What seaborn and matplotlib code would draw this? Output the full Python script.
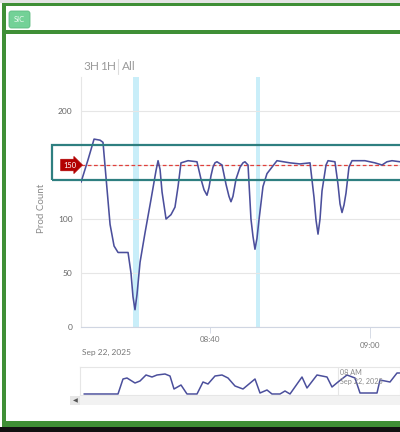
import pandas as pd
import numpy as np
import matplotlib
matplotlib.use("Agg")
import matplotlib.pyplot as plt
import matplotlib.dates as mdates
import matplotlib.transforms as mtransforms
from matplotlib.patches import Rectangle, FancyBboxPatch
import seaborn as sns

# --- data ---
day = "2025-09-22 "

main_times = [
    "08:23:52", "08:24:45", "08:25:30", "08:26:15", "08:26:37", "08:27:00", "08:27:30",
    "08:28:00", "08:28:30", "08:29:45", "08:30:07", "08:30:22", "08:30:37", "08:30:52",
    "08:31:15", "08:31:52", "08:32:37", "08:33:15", "08:33:30", "08:33:45", "08:34:00",
    "08:34:30", "08:35:07", "08:35:37", "08:36:00", "08:36:22", "08:37:15", "08:38:22",
    "08:38:52", "08:39:15", "08:39:37", "08:39:52", "08:40:07", "08:40:22", "08:40:37",
    "08:40:52", "08:41:30", "08:42:00", "08:42:22", "08:42:37", "08:42:52", "08:43:15",
    "08:43:45", "08:44:07", "08:44:22", "08:44:45", "08:45:07", "08:45:22", "08:45:37",
    "08:45:52", "08:46:07", "08:46:37", "08:47:07", "08:48:22", "08:50:00", "08:51:15",
    "08:52:30", "08:53:00", "08:53:15", "08:53:30", "08:53:45", "08:54:00", "08:54:30",
    "08:54:45", "08:55:37", "08:56:00", "08:56:15", "08:56:30", "08:56:45", "08:57:00",
    "08:57:22", "08:57:45", "08:59:22", "09:00:37", "09:01:30", "09:02:07", "09:02:45",
    "09:03:45", "09:05:00",
]
prod_count = [
    134, 155, 174, 173, 171, 138, 95,
    75, 69, 69, 50, 28, 16, 30,
    60, 87, 118, 145, 154, 146, 125,
    100, 104, 111, 130, 152, 154, 153,
    137, 127, 122, 129, 140, 148, 152,
    153, 150, 132, 121, 116, 121, 137,
    148, 152, 153, 150, 100, 84, 72,
    82, 99, 130, 142, 154, 152, 151,
    152, 120, 99, 86, 100, 126, 150,
    154, 153, 132, 114, 106, 113, 124,
    148, 154, 154, 152, 150, 153, 154,
    153, 153,
]

nav_times = [
    "03:46", "04:20", "04:25", "04:29", "04:37", "04:42", "04:48", "04:54", "04:59",
    "05:07", "05:12", "05:16", "05:23", "05:29", "05:39", "05:45", "05:50", "05:57",
    "06:04", "06:10", "06:17", "06:25", "06:37", "06:42", "06:49", "06:54", "07:02",
    "07:07", "07:12", "07:24", "07:29", "07:39", "07:49", "07:54", "08:00", "08:09",
    "08:17", "08:22", "08:30", "08:39", "08:42", "08:52", "08:59", "09:04",
]
nav_count = [
    1, 1, 16, 17, 12, 14, 20, 18, 20,
    21, 19, 6, 10, 1, 1, 13, 11, 19,
    20, 17, 9, 6, 16, 2, 5, 1, 1,
    4, 1, 18, 7, 20, 18, 8, 13, 20,
    17, 2, 2, 2, 15, 13, 22, 22,
]

target = 150
band_low, band_high = 136, 168.5
highlights = [("08:30:22", "08:31:07"), ("08:45:45", "08:46:15")]
x_ticks = ["08:40", "09:00"]
range_buttons = ["3H", "1H", "All"]

main_df = pd.DataFrame({"time": pd.to_datetime([day + t for t in main_times]),
                        "count": prod_count})
nav_df = pd.DataFrame({"time": pd.to_datetime([day + t for t in nav_times]),
                       "count": nav_count})

sns.set_theme(style="white")
plt.rcParams["font.family"] = ["Lato", "DejaVu Sans"]

W, H = 400, 432
def fx(x):
    return x / W
def fy(y):
    return 1 - y / H

fig = plt.figure(figsize=(4.0, 4.32), dpi=100)
fig.patch.set_facecolor("white")

green = "#3f8f36"
line_col = "#4b4f9c"
grid_col = "#e6e6e6"

# page frame
def frect(x0, y0, x1, y1, **kw):
    fig.patches.append(Rectangle((fx(x0), fy(y1)), fx(x1) - fx(x0), fy(y0) - fy(y1),
                                 transform=fig.transFigure, **kw))

frect(0, 0, 400, 3, fc="#e4e4e4", ec="none")
frect(0, 427, 400, 432, fc="#111111", ec="none")
frect(2, 3, 400, 5.5, fc=green, ec="none")
frect(2, 30, 400, 33.5, fc=green, ec="none")
frect(2, 3, 6, 427, fc=green, ec="none")
frect(2, 421, 400, 427, fc=green, ec="none")

fig.patches.append(FancyBboxPatch((fx(9), fy(28)), fx(30) - fx(9), fy(11) - fy(28),
                                  boxstyle="round,pad=0,rounding_size=0.006",
                                  transform=fig.transFigure, fc="#73d197", ec="#5dbb80", lw=0.6))
fig.text(fx(19.5), fy(19.8), "SIC", color="#eafaf0", fontsize=5.4, ha="center", va="center")

# range selector
fig.text(fx(83), fy(66), range_buttons[0], color="#9a9a9a", fontsize=8.5, va="center")
fig.text(fx(100), fy(66), range_buttons[1], color="#9a9a9a", fontsize=8.5, va="center")
fig.lines.append(plt.Line2D([fx(117.5), fx(117.5)], [fy(59), fy(74)],
                            transform=fig.transFigure, color="#dddddd", lw=0.8))
fig.text(fx(122), fy(66), range_buttons[2], color="#9a9a9a", fontsize=8.5, va="center")

fig.text(fx(42), fy(208), "Prod Count", color="#8a8a8a", fontsize=7,
         rotation=90, ha="center", va="center")

# main chart
ax = fig.add_axes([fx(81), fy(327), fx(400) - fx(81), fy(77) - fy(327)])
ax.set_facecolor("none")
for start, end in highlights:
    ax.axvspan(pd.Timestamp(day + start), pd.Timestamp(day + end),
               color="#c9eef9", lw=0, zorder=0)
sns.lineplot(data=main_df, x="time", y="count", ax=ax, color=line_col,
             linewidth=1.15, zorder=3)

ax.set_xlim(pd.Timestamp(day + "08:23:52"), pd.Timestamp(day + "09:03:45"))
ax.set_ylim(0, 231.5)
ax.set_yticks([0, 50, 100, 150, 200])
ax.set_yticklabels(["0", "50", "100", "", "200"])
ax.yaxis.grid(True, color=grid_col, lw=0.8)
ax.tick_params(axis="y", length=0, pad=6, labelsize=6, labelcolor="#666666")
ax.set_xlabel("")
ax.set_ylabel("")
for side in ["top", "right"]:
    ax.spines[side].set_visible(False)
ax.spines["left"].set_color(grid_col)
ax.spines["left"].set_linewidth(0.8)
ax.spines["bottom"].set_color("#d0d6e2")
ax.spines["bottom"].set_linewidth(0.8)

tick_ts = [pd.Timestamp(day + t) for t in x_ticks]
ax.set_xticks(tick_ts)
ax.set_xticklabels(["", ""])
ax.tick_params(axis="x", length=4.5, width=0.6, color="#d0d6e2", bottom=True)
ax.xaxis.get_major_ticks()[1].tick1line.set_markersize(8)

bt = mtransforms.blended_transform_factory(ax.transData, ax.transAxes)
ax.text(mdates.date2num(tick_ts[0]), -0.052, x_ticks[0], transform=bt, ha="center",
        va="center", fontsize=5.8, color="#777777", clip_on=False)
ax.text(mdates.date2num(tick_ts[1]), -0.072, x_ticks[1], transform=bt, ha="center",
        va="center", fontsize=5.8, color="#777777", clip_on=False)
ax.text(0.003, -0.102, "Sep 22, 2025", transform=ax.transAxes, ha="left",
        va="center", fontsize=6, color="#777777", clip_on=False)

# target line, band and tag
ax.axhline(target, color="#e0403c", lw=0.9, ls=(0, (3, 2)), zorder=2)
yt = mtransforms.blended_transform_factory(ax.transAxes, ax.transData)
ax.add_patch(Rectangle((-0.091, band_low), 1.2, band_high - band_low, transform=yt,
                       fill=False, ec="#2e7f80", lw=1.6, clip_on=False, zorder=4))
ax.text(-0.036, target, "150", transform=yt, ha="center", va="center", fontsize=5.4,
        color="white", clip_on=False, zorder=6,
        bbox=dict(boxstyle="rarrow,pad=0.3", fc="#b20000", ec="#b20000", lw=0.5))

# navigator
nav = fig.add_axes([fx(80), fy(395), fx(400) - fx(80), fy(367) - fy(395)])
sns.lineplot(data=nav_df, x="time", y="count", ax=nav, color=line_col, linewidth=1.1)
nav.set_xlim(pd.Timestamp(day + "03:42"), pd.Timestamp(day + "09:02"))
nav.set_ylim(0, 28)
nav.set_xticks([pd.Timestamp(day + "08:00")])
nav.xaxis.grid(True, color=grid_col, lw=0.8)
nav.set_xticklabels([])
nav.set_yticks([])
nav.tick_params(length=0)
nav.set_xlabel("")
nav.set_ylabel("")
for side in nav.spines.values():
    side.set_color(grid_col)
    side.set_linewidth(0.8)
nbt = mtransforms.blended_transform_factory(nav.transData, nav.transAxes)
x8 = mdates.date2num(pd.Timestamp(day + "08:00"))
nav.text(x8, 0.82, " 08 AM", transform=nbt, fontsize=5.2, color="#8a8a8a",
         ha="left", va="center")
nav.text(x8, 0.47, " Sep 22, 2025", transform=nbt, fontsize=5.2, color="#8a8a8a",
         ha="left", va="center")

# scrollbar
frect(70, 396, 400, 405, fc="#f2f2f2", ec="none")
frect(70, 396, 80, 405, fc="#e6e6e6", ec="none")
fig.text(fx(75), fy(400.5), "◀", fontsize=4.5, color="#555555", ha="center",
         va="center", family=["DejaVu Sans"])

fig.savefig("out.png", dpi=100)
